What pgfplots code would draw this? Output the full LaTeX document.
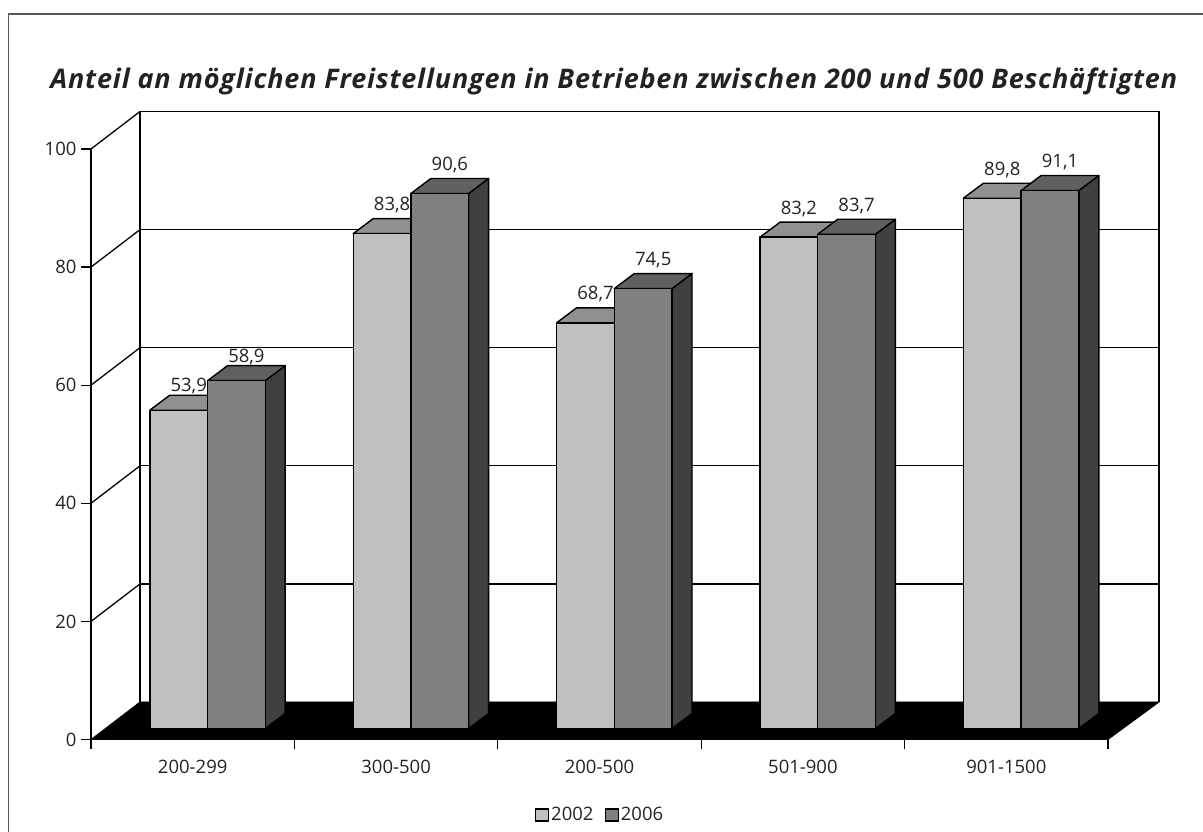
\documentclass[border=0pt]{standalone}
\usepackage{fontspec}
\setmainfont{Open Sans}
\usepackage{pgfplots}
\pgfplotsset{compat=1.18}
\definecolor{txt}{HTML}{222222}
\definecolor{fa}{HTML}{C0C0C0}
\definecolor{ta}{HTML}{909090}
\definecolor{sa}{HTML}{606060}
\definecolor{fb}{HTML}{808080}
\definecolor{tb}{HTML}{606060}
\definecolor{sb}{HTML}{404040}
\newcommand\solid[5]{% category, value, slot (-1 or 0), top colour, side colour
  \pgfmathsetmacro\xa{#1+#3*0.2837}
  \pgfmathsetmacro\xb{\xa+0.2837}
  \pgfmathsetmacro\xc{\xa+0.0983}
  \pgfmathsetmacro\xd{\xb+0.0983}
  \pgfmathsetmacro\yt{#2+2.54}
  \edef\temp{\noexpand\addplot[forget plot,barshift,fill=#5] coordinates {(\xb,0) (\xd,2.54) (\xd,\yt) (\xb,#2)} --cycle;
    \noexpand\addplot[forget plot,barshift,fill=#4] coordinates {(\xa,#2) (\xc,\yt) (\xd,\yt) (\xb,#2)} --cycle;}
  \temp
}
\tikzset{barshift/.style={draw=black,line width=1.4pt,line join=round,xshift=14.8pt,yshift=11pt}}
\begin{document}
\begin{tikzpicture}
\path[use as bounding box] (-91pt,-92.5pt) rectangle (1112pt,739.5pt);
\begin{axis}[
  at={(0,0)},
  scale only axis,
  width=1017pt,height=590.5pt,
  xmin=-0.5,xmax=4.5,ymin=0,ymax=100,
  clip=false,
  axis lines=left,
  axis line style={-,line width=1.3pt,black},
  tick style={line width=1.3pt,black},
  tick align=outside,
  major tick length=10pt,
  xtick={-0.5,0.5,1.5,2.5,3.5,4.5},
  x tick label as interval=true,
  xticklabels={200-299,300-500,200-500,501-900,901-1500},
  ytick={0,20,40,60,80,100},
  tick label style={font=\fontsize{18.5}{20}\selectfont,text=txt},
  /pgf/number format/assume math mode=true,
  /pgf/number format/use comma,
  yticklabel style={xshift=-1pt},
  xticklabel style={yshift=-7pt},
  legend style={at={(0.5005,0)},anchor=center,yshift=-75.5pt,draw=none,fill=none,
    legend columns=2,font=\fontsize{18.5}{20}\selectfont,text=txt,
    /tikz/every even column/.append style={column sep=9pt},
    inner sep=0pt},
  legend image code/.code={\draw[#1] (0pt,-6pt) rectangle (13pt,6pt);},
]
\addlegendimage{draw=black,line width=1.4pt,fill=fa}
\addlegendentry{2002}
\addlegendimage{draw=black,line width=1.4pt,fill=fb}
\addlegendentry{2006}

% back wall and grid
\addplot[black,line width=1.6pt,forget plot] coordinates {(-0.259,6.35) (-0.259,106.35) (4.751,106.35) (4.751,6.35)};
\addplot[black,line width=1.3pt,forget plot] coordinates {(-0.259,26.35) (4.751,26.35)};
\addplot[black,line width=1.3pt,forget plot] coordinates {(-0.259,46.35) (4.751,46.35)};
\addplot[black,line width=1.3pt,forget plot] coordinates {(-0.259,66.35) (4.751,66.35)};
\addplot[black,line width=1.3pt,forget plot] coordinates {(-0.259,86.35) (4.751,86.35)};
% left wall diagonals
\addplot[black,line width=1.3pt,forget plot] coordinates {(-0.5,20) (-0.259,26.35)};
\addplot[black,line width=1.3pt,forget plot] coordinates {(-0.5,40) (-0.259,46.35)};
\addplot[black,line width=1.3pt,forget plot] coordinates {(-0.5,60) (-0.259,66.35)};
\addplot[black,line width=1.3pt,forget plot] coordinates {(-0.5,80) (-0.259,86.35)};
\addplot[black,line width=1.3pt,forget plot] coordinates {(-0.5,100) (-0.259,106.35)};
% floor
\addplot[fill=black,draw=black,line width=0.8pt,forget plot] coordinates {(-0.5,0) (-0.259,6.35) (4.751,6.35) (4.5,0)} --cycle;

% series 2002
\solid{0}{53.9}{-1}{ta}{sa}
\solid{1}{83.8}{-1}{ta}{sa}
\solid{2}{68.7}{-1}{ta}{sa}
\solid{3}{83.2}{-1}{ta}{sa}
\solid{4}{89.8}{-1}{ta}{sa}
\addplot[forget plot,ybar,bar width=57.7pt,bar shift=-28.85pt,fill=fa,barshift] coordinates {(0,53.9) (1,83.8) (2,68.7) (3,83.2) (4,89.8)};
% series 2006
\solid{0}{58.9}{0}{tb}{sb}
\solid{1}{90.6}{0}{tb}{sb}
\solid{2}{74.5}{0}{tb}{sb}
\solid{3}{83.7}{0}{tb}{sb}
\solid{4}{91.1}{0}{tb}{sb}
\addplot[forget plot,ybar,bar width=57.7pt,bar shift=28.85pt,fill=fb,barshift] coordinates {(0,58.9) (1,90.6) (2,74.5) (3,83.7) (4,91.1)};

% value labels
\pgfplotsset{lab/.style n args={2}{draw=none,mark=none,nodes near coords,
  nodes near coords style={anchor=center,font=\fontsize{18.5}{20}\selectfont,text=txt,xshift=#1,yshift=#2,
    /pgf/number format/.cd,fixed,fixed zerofill,precision=1,use comma,assume math mode=true}}}
\addplot[forget plot,lab={-4pt}{35pt}] coordinates {(0,53.9)};
\addplot[forget plot,lab={-4pt}{39.5pt}] coordinates {(1,83.8) (2,68.7) (3,83.2) (4,89.8)};
\addplot[forget plot,lab={53.7pt}{35pt}] coordinates {(0,58.9)};
\addplot[forget plot,lab={53.7pt}{39.5pt}] coordinates {(1,90.6) (2,74.5) (3,83.7) (4,91.1)};

% title
\node[font=\fontsize{27}{30}\selectfont\bfseries\itshape\addfontfeatures{LetterSpace=3.0},text=txt,anchor=center] at (axis cs:2.07,111.5) {Anteil an möglichen Freistellungen in Betrieben zwischen 200 und 500 Beschäftigten};
\end{axis}
\draw[color=black!65,line width=1.5pt] (-82.5pt,-92.5pt) -- (-82.5pt,725.5pt) -- (1112pt,725.5pt);
\end{tikzpicture}
\end{document}
